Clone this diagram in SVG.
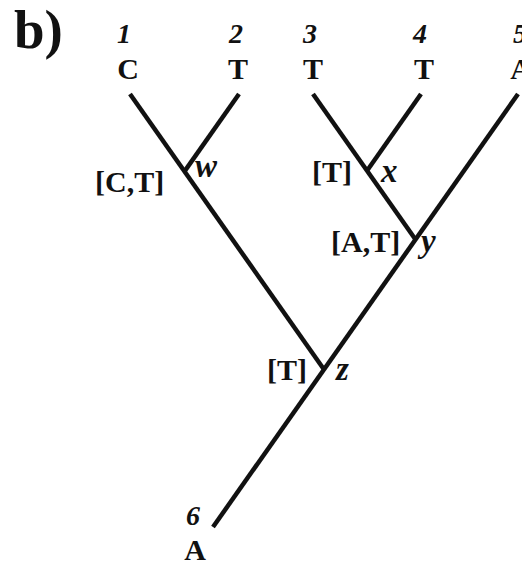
<svg xmlns="http://www.w3.org/2000/svg" width="522" height="566" viewBox="0 0 522 566" font-family="'Liberation Serif', 'DejaVu Serif', 'Times New Roman', serif">
<style>
.br{stroke:#111;stroke-width:4.5;fill:none;stroke-linecap:butt}
.t{font-family:'Liberation Serif','DejaVu Serif','Times New Roman',serif;fill:#111}
.st{font-weight:bold;font-size:30px;text-anchor:middle}
.num{font-weight:bold;font-style:italic;font-size:28px;text-anchor:middle}
.lab{font-weight:bold;font-size:30px}
.nd{font-weight:bold;font-style:italic;font-size:33px}
</style>
<rect width="522" height="566" fill="#fff"/>
<text class="t" x="14" y="48" font-weight="bold" font-size="55">b)</text>
<g id="connectors">
<line class="br" x1="130" y1="94" x2="324" y2="369.5"/>
<line class="br" x1="518" y1="94" x2="213" y2="527"/>
<line class="br" x1="239" y1="94" x2="184.5" y2="171.4"/>
<line class="br" x1="313" y1="94" x2="415.5" y2="239.5"/>
<line class="br" x1="421" y1="94" x2="367" y2="170.7"/>
</g>
<g id="leaf1"><text class="t num" x="124" y="43">1</text><text class="t st" x="128" y="79">C</text></g>
<g id="leaf2"><text class="t num" x="236" y="43">2</text><text class="t st" x="238" y="79">T</text></g>
<g id="leaf3"><text class="t num" x="310" y="43">3</text><text class="t st" x="313" y="79">T</text></g>
<g id="leaf4"><text class="t num" x="420" y="43">4</text><text class="t st" x="424" y="79">T</text></g>
<g id="leaf5"><text class="t num" x="520" y="43">5</text><text class="t st" x="521" y="79">A</text></g>
<g id="leaf6"><text class="t num" x="193" y="525">6</text><text class="t st" x="195" y="560">A</text></g>
<g id="node-w"><text class="t lab" x="95" y="192">[C,T]</text><text class="t nd" x="195" y="177">w</text></g>
<g id="node-x"><text class="t lab" x="312" y="182">[T]</text><text class="t nd" x="381" y="182">x</text></g>
<g id="node-y"><text class="t lab" x="331" y="252">[A,T]</text><text class="t nd" x="421" y="252">y</text></g>
<g id="node-z"><text class="t lab" x="267" y="380">[T]</text><text class="t nd" x="336" y="380">z</text></g>
</svg>
